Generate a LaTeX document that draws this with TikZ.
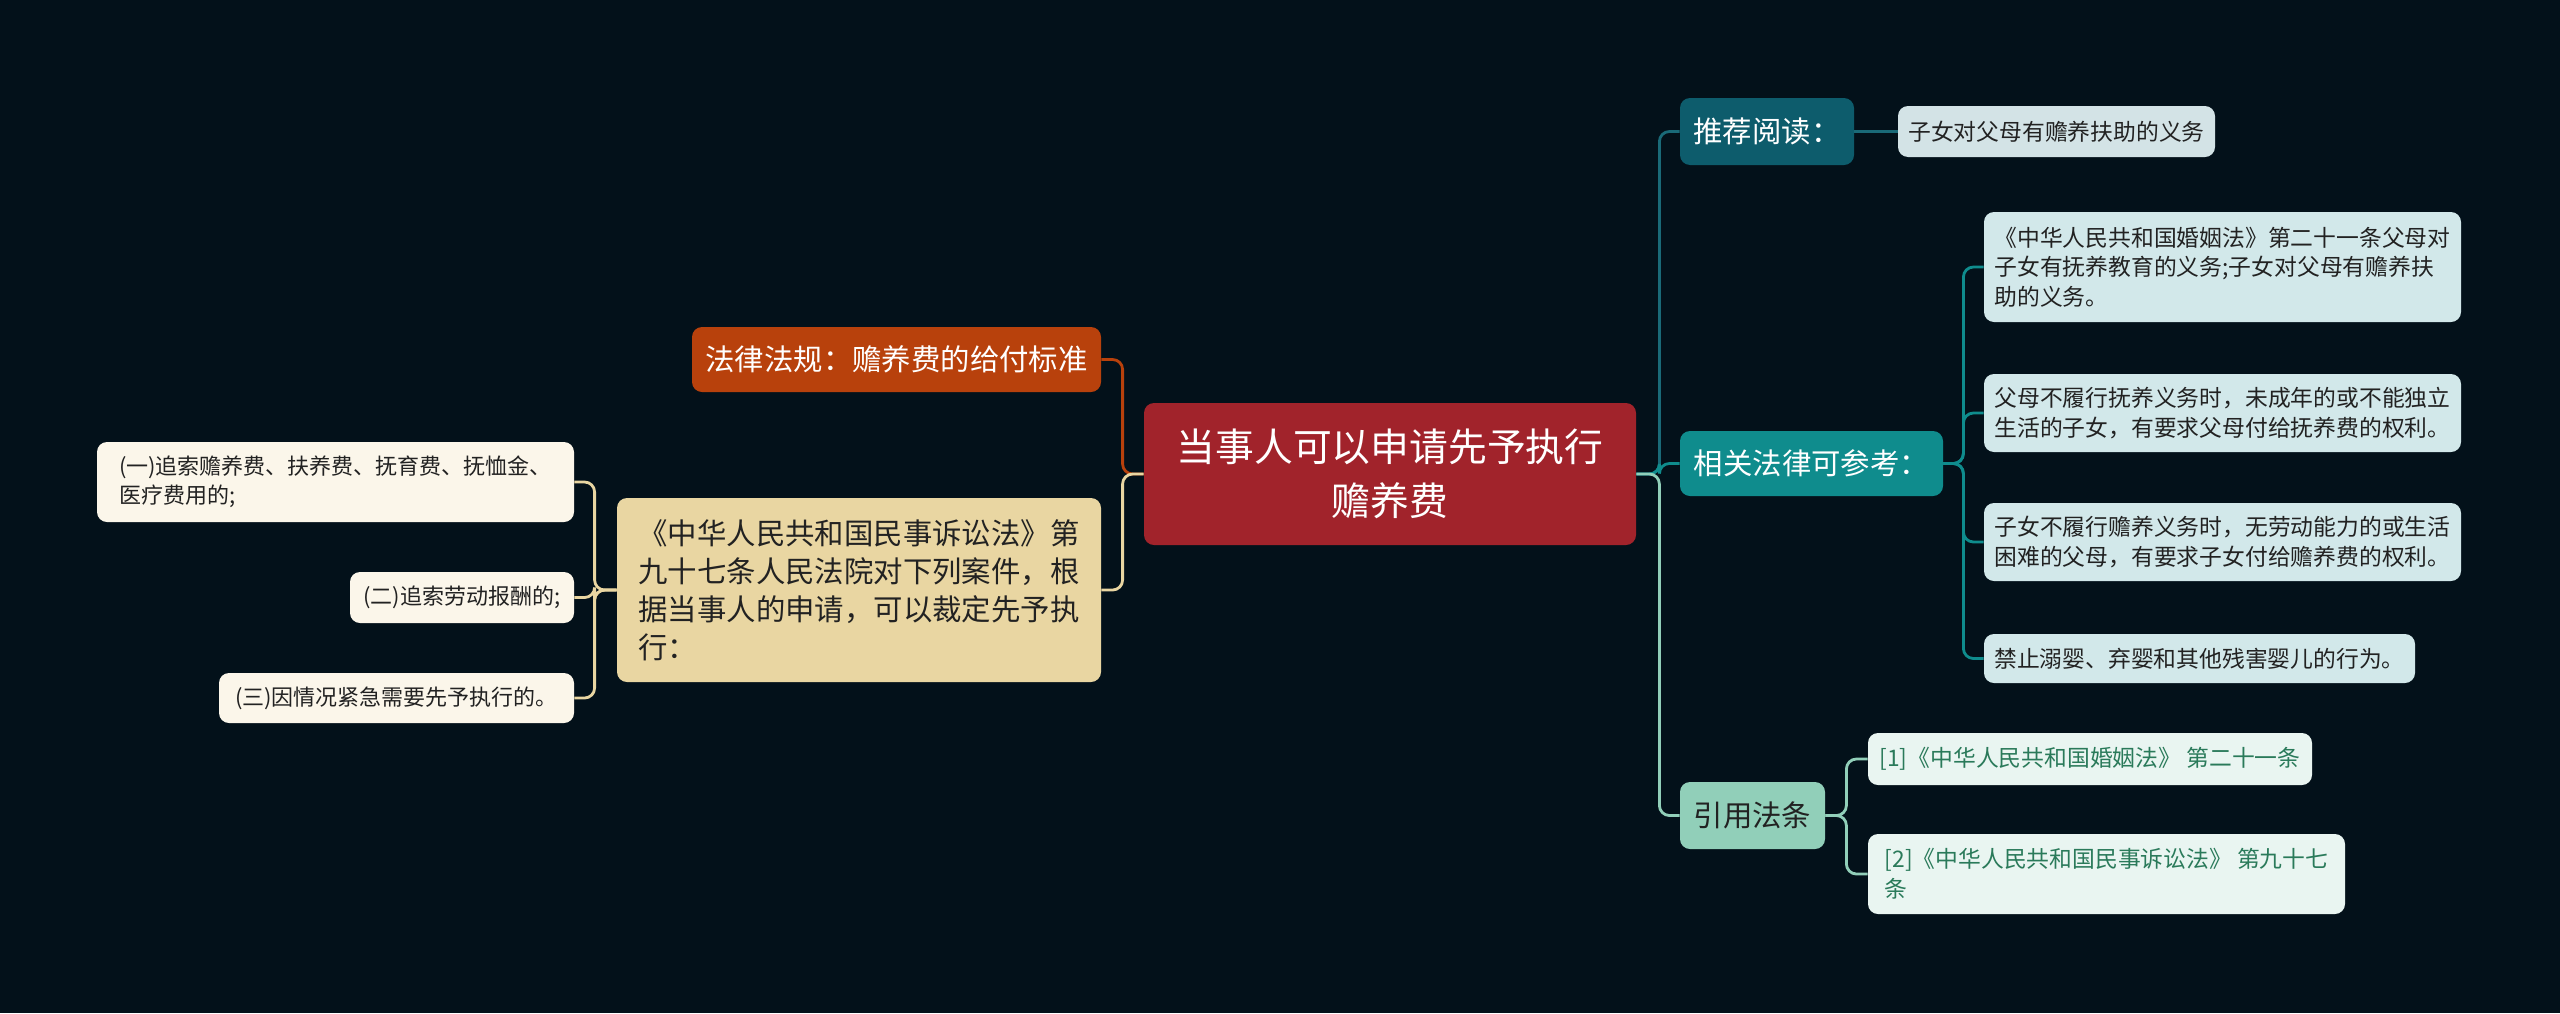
\documentclass[tikz,border=0pt]{standalone}
\usepackage{fontspec}
\setmainfont{Noto Sans CJK SC}
\usetikzlibrary{positioning}

\definecolor{bgdark}{HTML}{03111A}
\definecolor{rootred}{HTML}{A1232B}
\definecolor{laworange}{HTML}{B8410C}
\definecolor{lawbeige}{HTML}{E9D6A2}
\definecolor{leafcream}{HTML}{FBF6EA}
\definecolor{tealdark}{HTML}{0D5C6C}
\definecolor{tealdarkln}{HTML}{1A6A78}
\definecolor{greyblue}{HTML}{D3E3E6}
\definecolor{tealmid}{HTML}{0F8C8D}
\definecolor{subcyan}{HTML}{D2E8EA}
\definecolor{mint}{HTML}{91CFB9}
\definecolor{citebg}{HTML}{E9F5F1}
\definecolor{citetext}{HTML}{2A7A5A}
\definecolor{darktext}{HTML}{222222}

\begin{document}
\begin{tikzpicture}[x=0.5pt,y=-0.5pt,
  box/.style={rounded corners=5pt,inner xsep=5pt,inner ysep=2pt,align=left},
  rootbox/.style={box,fill=rootred,text=white,align=center,font=\fontsize{19.4}{27}\selectfont},
  mainbox/.style={box,font=\fontsize{14.7}{19}\selectfont},
  leafbox/.style={box,text=darktext,font=\fontsize{11}{14.5}\selectfont},
  rleafbox/.style={box,text=darktext,font=\fontsize{11.4}{14.8}\selectfont},
  link/.style={line width=1.4pt,rounded corners=5pt}]

  \useasboundingbox (0,0) rectangle (2560,1013);
  \fill [bgdark] (0,0) rectangle (2560,1013);

  % centre
  \node [rootbox,minimum width=246pt,minimum height=71pt] (root) at (1390,474)
    {当事人可以申请先予执行\\赡养费};

  % left side
  \node [mainbox,fill=laworange,text=white,minimum width=204.5pt,minimum height=32.5pt] (law) at (896.5,359.5)
    {法律法规：赡养费的给付标准};
  \node [mainbox,fill=lawbeige,text=darktext,minimum width=242pt,minimum height=92pt] (msf) at (859,590)
    {《中华人民共和国民事诉讼法》第\\九十七条人民法院对下列案件，根\\据当事人的申请，可以裁定先予执\\行：};

  \node [leafbox,fill=leafcream,minimum width=238.5pt,minimum height=40pt] (msf_1) at (335.5,482)
    {(一)追索赡养费、扶养费、抚育费、抚恤金、\\医疗费用的;};
  \node [leafbox,fill=leafcream,minimum width=112pt,minimum height=25.5pt] (msf_2) at (462,597.5)
    {(二)追索劳动报酬的;};
  \node [leafbox,fill=leafcream,minimum width=177.5pt,minimum height=25pt] (msf_3) at (396.5,698)
    {(三)因情况紧急需要先予执行的。};

  % right side
  \node [mainbox,fill=tealdark,text=white,minimum width=87pt,minimum height=33.5pt] (tj) at (1767,131.5)
    {推荐阅读：};
  \node [rleafbox,fill=greyblue,minimum width=158.5pt,minimum height=25.5pt] (tj_1) at (2056.5,131.5)
    {子女对父母有赡养扶助的义务};

  \node [mainbox,fill=tealmid,text=white,minimum width=131.5pt,minimum height=32.5pt] (xg) at (1811.5,463.5)
    {相关法律可参考：};
  \node [rleafbox,fill=subcyan,minimum width=238.5pt,minimum height=55pt] (xg_1) at (2222.5,267)
    {《中华人民共和国婚姻法》第二十一条父母对\\子女有抚养教育的义务;子女对父母有赡养扶\\助的义务。};
  \node [rleafbox,fill=subcyan,minimum width=238.5pt,minimum height=39pt] (xg_2) at (2222.5,413)
    {父母不履行抚养义务时，未成年的或不能独立\\生活的子女，有要求父母付给抚养费的权利。};
  \node [rleafbox,fill=subcyan,minimum width=238.5pt,minimum height=39pt] (xg_3) at (2222.5,542)
    {子女不履行赡养义务时，无劳动能力的或生活\\困难的父母，有要求子女付给赡养费的权利。};
  \node [rleafbox,fill=subcyan,minimum width=215.5pt,minimum height=24.5pt] (xg_4) at (2199.5,658.5)
    {禁止溺婴、弃婴和其他残害婴儿的行为。};

  \node [mainbox,fill=mint,text=darktext,minimum width=72.5pt,minimum height=33.5pt] (yy) at (1752.5,815.5)
    {引用法条};
  \node [rleafbox,fill=citebg,text=citetext,minimum width=222pt,minimum height=26pt] (yy_1) at (2090,759)
    {[1]《中华人民共和国婚姻法》 第二十一条};
  \node [rleafbox,fill=citebg,text=citetext,minimum width=238.5pt,minimum height=40pt] (yy_2) at (2106.5,874)
    {[2]《中华人民共和国民事诉讼法》 第九十七\\条};

  % connectors
  \draw [link,laworange] (root.west) -- ++(-21,0) |- (law.east);
  \draw [link,lawbeige] (root.west) -- ++(-21,0) |- (msf.east);
  \foreach \k in {1,2,3}
    \draw [link,lawbeige] (msf.west) -- ++(-22,0) |- (msf_\k.east);

  \draw [link,tealdarkln] (root.east) -- ++(23,0) |- (tj.west);
  \draw [link,tealmid] (root.east) -- ++(23,0) |- (xg.west);
  \draw [link,mint] (root.east) -- ++(23,0) |- (yy.west);

  \draw [link,tealdarkln] (tj.east) -- (tj_1.west);
  \foreach \k in {1,2,3,4}
    \draw [link,tealmid] (xg.east) -- ++(20,0) |- (xg_\k.west);
  \foreach \k in {1,2}
    \draw [link,mint] (yy.east) -- ++(21,0) |- (yy_\k.west);

\end{tikzpicture}
\end{document}
